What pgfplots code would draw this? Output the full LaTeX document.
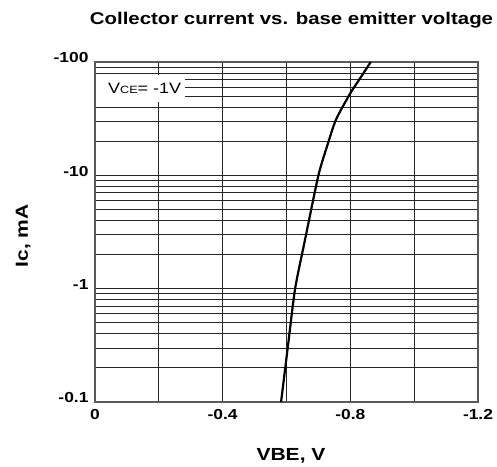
\documentclass[border=0pt]{standalone}
\usepackage{fontspec}
\setmainfont{Liberation Sans}[FakeStretch=1.2]
\usepackage{pgfplots}
\pgfplotsset{compat=1.18}
\begin{document}
\begin{tikzpicture}[x=1pt,y=1pt]
\useasboundingbox (-95,-64) rectangle (402,402);
\begin{axis}[
  at={(0,0)}, anchor=south west,
  scale only axis, width=383pt, height=340pt,
  xmin=-1.2, xmax=0, x dir=reverse,
  ymode=log, ymin=0.1, ymax=100,
  xtick={0,-0.4,-0.8,-1.2}, xticklabels={0,-0.4,-0.8,-1.2},
  minor xtick={-0.2,-0.6,-1.0},
  ytick={0.1,1,10,100}, yticklabels={-0.1,-1,-10,-100},
  minor ytick={0.2,0.3,0.4,0.5,0.6,0.7,0.8,0.9,2,3,4,5,6,7,8,9,20,30,40,50,60,70,80,90},
  grid=both,
  major grid style={black!85, line width=0.8pt},
  minor grid style={black!85, line width=0.8pt},
  major tick length=0pt, minor tick length=0pt,
  axis line style={black!65, line width=1.2pt},
  ticklabel style={font=\fontsize{14.5}{16}\selectfont\bfseries},
  xticklabel style={yshift=-4pt},
  yticklabel style={xshift=-3pt, yshift=4pt},
  clip=true,
]
\addplot[black, line width=2.2pt, smooth, tension=0.4] coordinates {
  (-0.583,0.1) (-0.605,0.32) (-0.627,1) (-0.658,2.7) (-0.70,10) (-0.727,18) (-0.755,31) (-0.80,53) (-0.835,75) (-0.864,100)
};
\end{axis}
\fill[white] (0.6,300) rectangle (90,327);
\node[anchor=base west, inner sep=0pt, font=\fontsize{15}{18}\selectfont] at (13,308) {V{\fontsize{10.5}{13}\selectfont CE}= -1V};
\node[anchor=base, inner sep=0pt, font=\fontsize{17}{20}\selectfont\bfseries] at (196.5,377) {Collector current vs. base emitter voltage};
\node[anchor=base, inner sep=0pt, font=\fontsize{17.5}{20}\selectfont\bfseries] at (196,-58) {VBE, V};
\node[anchor=base, inner sep=0pt, font=\fontsize{17.5}{20}\selectfont\bfseries, rotate=90] at (-67,166) {Ic, mA};
\end{tikzpicture}
\end{document}
